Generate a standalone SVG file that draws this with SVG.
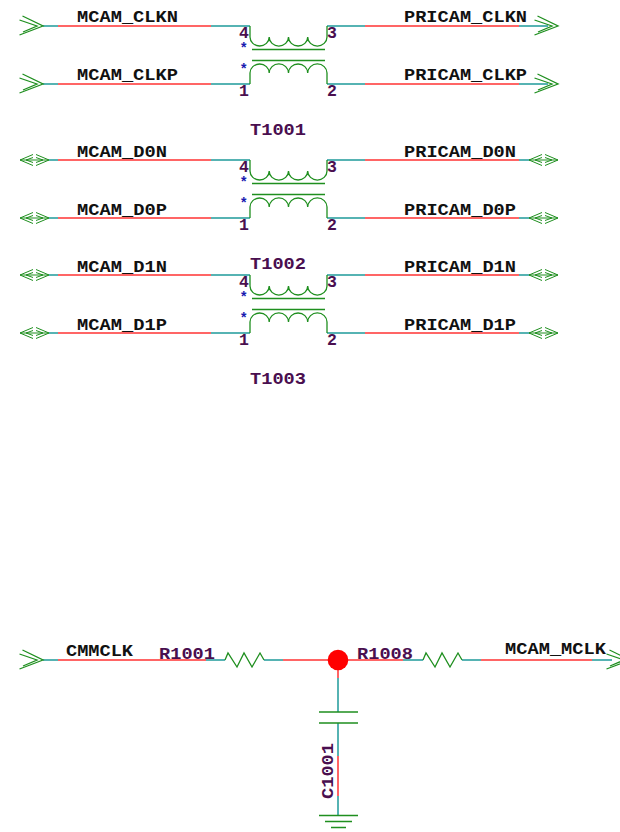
<svg xmlns="http://www.w3.org/2000/svg" width="620" height="832" viewBox="0 0 620 832">
<style>
text{font-family:"Liberation Mono","DejaVu Sans Mono",monospace;font-weight:bold}
.net{font-size:16.5px;fill:#111}
.ref{font-size:16.5px;fill:#4a0f4f}
.star{font-size:14px;fill:#1a1ab0;font-family:"Liberation Sans",sans-serif}
.sym{fill:none;stroke:#1f8f1f;stroke-width:1.3}
.thin{stroke-width:1}
.t{fill:none;stroke:#1f9a9a;stroke-width:1.5}
.r{fill:none;stroke:#f33;stroke-width:1.5}
</style>
<defs>
<g id="inp"><path class="sym" d="M22.5 -10L43 0L19.5 9M19.5 -6L37 0L23 6"/></g>
<g id="bidi"><path class="sym thin" d="M33 -5.5L20 0L33 5.5M33 -2.5L26 0L33 2.5M20 0H49M36 -5.5L49 0L36 5.5M36 -2.5L43 0L36 2.5"/></g>
<g id="xf"><path class="sym" d="M250 26V37A9.6 9 0 0 0 269.2 37A9.6 9 0 0 0 288.5 37A9.6 9 0 0 0 307.7 37A9.6 9 0 0 0 327 37V26M252 49.5H325M252 60.5H325M250 84V73A9.6 9 0 0 1 269.2 73A9.6 9 0 0 1 288.5 73A9.6 9 0 0 1 307.7 73A9.6 9 0 0 1 327 73V84"/>
<text class="ref" x="239" y="38">4</text><text class="ref" x="327" y="38">3</text><text class="ref" x="239" y="96">1</text><text class="ref" x="327" y="96">2</text>
<text class="star" x="241" y="52">*</text><text class="star" x="241" y="73">*</text></g>
</defs>
<g id="connectors">
<path class="t" d="M43 26H58M211 26H250M327 26H365M519 26H548M43 84H58M211 84H250M327 84H365M519 84H548M49 160H58M211 160H250M327 160H365M519 160H530M49 218H58M211 218H250M327 218H365M519 218H530M49 275H58M211 275H250M327 275H365M519 275H530M49 333H58M211 333H250M327 333H365M519 333H530M43 660H58M206 660H225M264 660H283M403 660H423M462 660H481M592 660H612M338 678V712M338 723V756M338 796V815"/>
<path class="r" d="M58 26H211M365 26H519M58 84H211M365 84H519M58 160H211M365 160H519M58 218H211M365 218H519M58 275H211M365 275H519M58 333H211M365 333H519M58 660H206M283 660H403M481 660H592M338 670V678M338 756V796"/>
</g>
<g id="T1001"><use href="#xf"/><text class="ref" x="250" y="135" textLength="56" lengthAdjust="spacingAndGlyphs">T1001</text></g>
<g id="T1002"><use href="#xf" y="134"/><text class="ref" x="250" y="269" textLength="56" lengthAdjust="spacingAndGlyphs">T1002</text></g>
<g id="T1003"><use href="#xf" y="249"/><text class="ref" x="250" y="384" textLength="56" lengthAdjust="spacingAndGlyphs">T1003</text></g>
<g id="ports">
<use href="#inp" y="26"/><use href="#inp" y="84"/><use href="#inp" x="515" y="26"/><use href="#inp" x="515" y="84"/>
<use href="#bidi" y="160"/><use href="#bidi" y="218"/><use href="#bidi" y="275"/><use href="#bidi" y="333"/>
<use href="#bidi" x="509" y="160"/><use href="#bidi" x="509" y="218"/><use href="#bidi" x="509" y="275"/><use href="#bidi" x="509" y="333"/>
<use href="#inp" y="660"/><use href="#inp" x="587" y="660"/>
</g>
<g id="labels">
<text class="net" x="77" y="22" textLength="101" lengthAdjust="spacingAndGlyphs">MCAM_CLKN</text>
<text class="net" x="77" y="80" textLength="101" lengthAdjust="spacingAndGlyphs">MCAM_CLKP</text>
<text class="net" x="404" y="22" textLength="123" lengthAdjust="spacingAndGlyphs">PRICAM_CLKN</text>
<text class="net" x="404" y="80" textLength="123" lengthAdjust="spacingAndGlyphs">PRICAM_CLKP</text>
<text class="net" x="77" y="157" textLength="90" lengthAdjust="spacingAndGlyphs">MCAM_D0N</text>
<text class="net" x="77" y="215" textLength="90" lengthAdjust="spacingAndGlyphs">MCAM_D0P</text>
<text class="net" x="77" y="272" textLength="90" lengthAdjust="spacingAndGlyphs">MCAM_D1N</text>
<text class="net" x="77" y="330" textLength="90" lengthAdjust="spacingAndGlyphs">MCAM_D1P</text>
<text class="net" x="404" y="157" textLength="112" lengthAdjust="spacingAndGlyphs">PRICAM_D0N</text>
<text class="net" x="404" y="215" textLength="112" lengthAdjust="spacingAndGlyphs">PRICAM_D0P</text>
<text class="net" x="404" y="272" textLength="112" lengthAdjust="spacingAndGlyphs">PRICAM_D1N</text>
<text class="net" x="404" y="330" textLength="112" lengthAdjust="spacingAndGlyphs">PRICAM_D1P</text>
<text class="net" x="66" y="656" textLength="67" lengthAdjust="spacingAndGlyphs">CMMCLK</text>
<text class="net" x="505" y="654" textLength="101" lengthAdjust="spacingAndGlyphs">MCAM_MCLK</text>
</g>
<g id="R1001"><path class="sym" d="M225 660L228 653L237 667L244 653L252 667L260 653L264 660"/><text class="ref" x="159" y="659" textLength="56" lengthAdjust="spacingAndGlyphs">R1001</text></g>
<g id="R1008"><path class="sym" d="M423 660L426 653L435 667L442 653L450 667L458 653L462 660"/><text class="ref" x="357" y="659" textLength="56" lengthAdjust="spacingAndGlyphs">R1008</text></g>
<g id="C1001"><path class="sym" d="M319 712H358M319 723H358"/><text class="ref" transform="translate(333 799) rotate(-90)" textLength="56" lengthAdjust="spacingAndGlyphs">C1001</text></g>
<g id="GND"><path class="sym" d="M319 815.5H358M325 821.5H352M331 827.5H346"/></g>
<circle id="junction" cx="338" cy="660" r="10.3" fill="#f00"/>
</svg>
